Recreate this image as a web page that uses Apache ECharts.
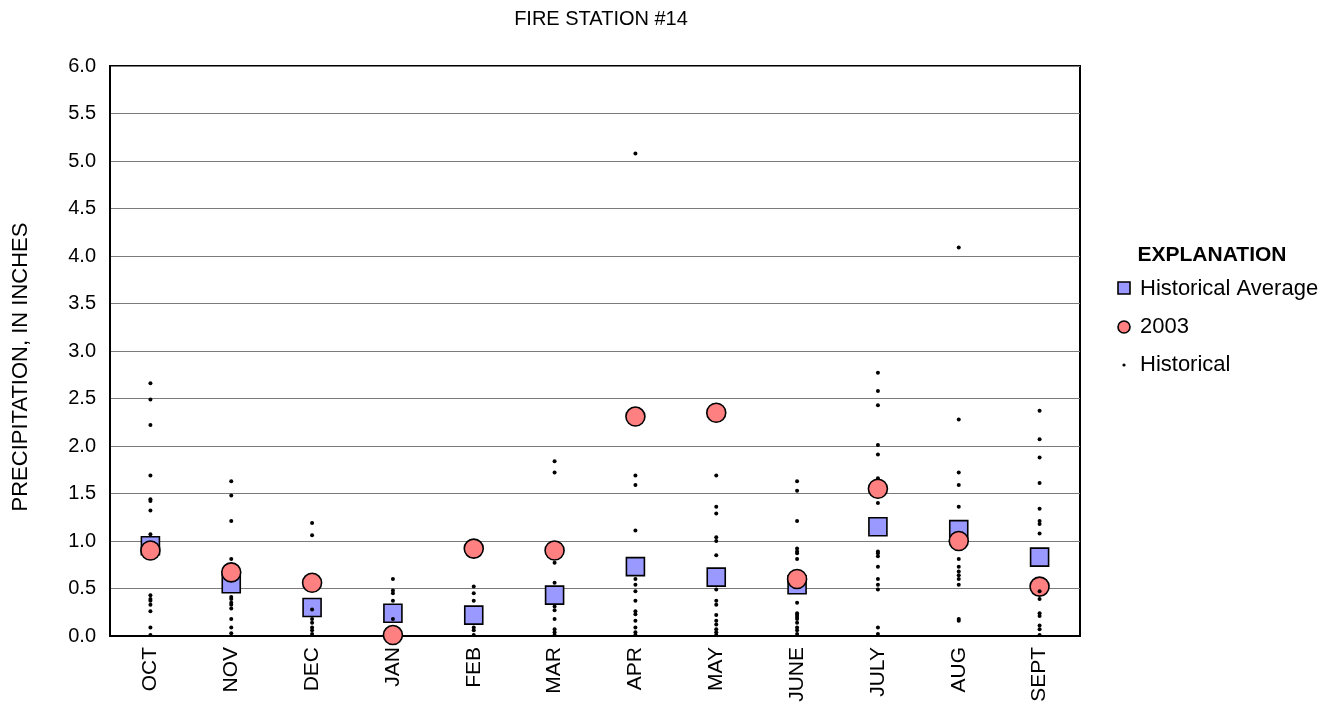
<!DOCTYPE html>
<html>
<head>
<meta charset="utf-8">
<script src="https://cdn.jsdelivr.net/npm/echarts@6/dist/echarts.min.js"></script>
<style>
  html, body { margin: 0; padding: 0; background: #fff; }
  #chart { width: 1335px; height: 702px; }
</style>
</head>
<body>
<div id="chart"></div>
<script>
// Water-year months
const months = ['OCT', 'NOV', 'DEC', 'JAN', 'FEB', 'MAR', 'APR', 'MAY', 'JUNE', 'JULY', 'AUG', 'SEPT'];

// Long-term monthly mean precipitation, inches
const historicalAverage = [0.95, 0.55, 0.30, 0.24, 0.22, 0.43, 0.73, 0.62, 0.54, 1.15, 1.12, 0.83];

// Monthly precipitation for 2003, inches
const year2003 = [0.90, 0.67, 0.56, 0.01, 0.92, 0.90, 2.31, 2.35, 0.60, 1.55, 1.00, 0.52];

// Individual historical monthly totals, inches
const historicalOct  = [2.66, 2.49, 2.22, 1.69, 1.44, 1.42, 1.32, 1.07, 0.43, 0.39, 0.37, 0.33, 0.26, 0.09, 0.01];
const historicalNov  = [1.63, 1.48, 1.21, 0.81, 0.41, 0.39, 0.35, 0.33, 0.29, 0.18, 0.09, 0.03];
const historicalDec  = [1.19, 1.06, 0.28, 0.18, 0.14, 0.09, 0.06, 0.02];
const historicalJan  = [0.60, 0.48, 0.45, 0.37, 0.18];
const historicalFeb  = [0.52, 0.45, 0.37, 0.09, 0.06, 0.01];
const historicalMar  = [1.84, 1.72, 0.77, 0.56, 0.31, 0.27, 0.18, 0.07, 0.04, 0.01];
const historicalApr  = [5.08, 1.69, 1.59, 1.11, 0.60, 0.54, 0.47, 0.37, 0.26, 0.23, 0.16, 0.09, 0.04, 0.01];
const historicalMay  = [1.69, 1.36, 1.29, 1.04, 1.00, 0.85, 0.49, 0.37, 0.33, 0.22, 0.16, 0.12, 0.07, 0.04, 0.01];
const historicalJune = [1.63, 1.53, 1.21, 0.92, 0.89, 0.87, 0.81, 0.35, 0.24, 0.22, 0.20, 0.18, 0.14, 0.09, 0.06, 0.02];
const historicalJuly = [2.77, 2.58, 2.43, 2.01, 1.91, 1.66, 1.40, 0.89, 0.87, 0.84, 0.73, 0.60, 0.54, 0.49, 0.09, 0.02];
const historicalAug  = [4.09, 2.28, 1.72, 1.59, 1.36, 0.81, 0.73, 0.68, 0.64, 0.60, 0.54, 0.18, 0.16];
const historicalSept = [2.37, 2.07, 1.88, 1.61, 1.34, 1.21, 1.18, 1.08, 0.47, 0.39, 0.24, 0.21, 0.11, 0.07, 0.01];

// Y-axis tick labels
const yTicks = ['0.0', '0.5', '1.0', '1.5', '2.0', '2.5', '3.0', '3.5', '4.0', '4.5', '5.0', '5.5', '6.0'];

const historicalByMonth = [historicalOct, historicalNov, historicalDec, historicalJan, historicalFeb,
  historicalMar, historicalApr, historicalMay, historicalJune, historicalJuly, historicalAug, historicalSept];

const historicalPoints = [];
historicalByMonth.forEach((vals, i) => vals.forEach(v => historicalPoints.push([months[i], v])));

const FONT = '"Liberation Sans", Arial, sans-serif';

const chart = echarts.init(document.getElementById('chart'), null, { renderer: 'canvas' });

chart.setOption({
  backgroundColor: '#ffffff',
  animation: false,
  grid: {
    left: 110, right: 255, top: 66, bottom: 66,
    outerBoundsMode: 'none',
    containLabel: false,
    show: true, borderColor: '#000', borderWidth: 2, backgroundColor: 'transparent'
  },
  xAxis: {
    type: 'category',
    data: months,
    boundaryGap: true,
    axisLine: { lineStyle: { color: '#000', width: 2 } },
    axisTick: { show: false },
    axisLabel: { rotate: 90, margin: 11, color: '#000', fontSize: 21, fontFamily: FONT }
  },
  yAxis: {
    type: 'value',
    min: 0, max: 6, interval: 0.5,
    axisLine: { show: true, lineStyle: { color: '#000', width: 2 } },
    axisTick: { show: false },
    splitLine: { lineStyle: { color: '#7a7a7a', width: 1 } },
    axisLabel: {
      margin: 14, color: '#000', fontSize: 20, fontFamily: FONT,
      formatter: v => yTicks[Math.round(v * 2)]
    }
  },
  series: [
    {
      name: 'Historical Average',
      type: 'scatter',
      data: months.map((m, i) => [m, historicalAverage[i]]),
      symbol: 'rect',
      symbolSize: 18,
      z: 2,
      itemStyle: { color: '#9999ff', borderColor: '#000', borderWidth: 1.6, opacity: 1 }
    },
    {
      name: '2003',
      type: 'scatter',
      data: months.map((m, i) => [m, year2003[i]]),
      symbol: 'circle',
      symbolSize: 19,
      z: 3,
      itemStyle: { color: '#ff8080', borderColor: '#000', borderWidth: 1.6, opacity: 1 }
    },
    {
      name: 'Historical',
      type: 'scatter',
      data: historicalPoints,
      symbol: 'circle',
      symbolSize: 4,
      z: 4,
      itemStyle: { color: '#000', opacity: 1 }
    }
  ],
  graphic: [
    {
      type: 'text', x: 601, y: 19,
      style: { text: 'FIRE STATION #14', font: '20px ' + FONT, fill: '#000',
        textAlign: 'center', textVerticalAlign: 'middle' }
    },
    {
      type: 'text', x: 21, y: 367, rotation: Math.PI / 2,
      style: { text: 'PRECIPITATION, IN INCHES', font: '22px ' + FONT, fill: '#000',
        textAlign: 'center', textVerticalAlign: 'middle' }
    },
    // Explanation box
    {
      type: 'text', x: 1212, y: 255,
      style: { text: 'EXPLANATION', font: 'bold 21px ' + FONT, fill: '#000',
        textAlign: 'center', textVerticalAlign: 'middle' }
    },
    {
      type: 'rect', shape: { x: 1118, y: 282, width: 12, height: 12 },
      style: { fill: '#9999ff', stroke: '#000', lineWidth: 1.6 }
    },
    {
      type: 'text', x: 1140, y: 289,
      style: { text: 'Historical Average', font: '22px ' + FONT, fill: '#000', textVerticalAlign: 'middle' }
    },
    {
      type: 'circle', shape: { cx: 1124, cy: 327, r: 6 },
      style: { fill: '#ff8080', stroke: '#000', lineWidth: 1.6 }
    },
    {
      type: 'text', x: 1140, y: 327,
      style: { text: '2003', font: '22px ' + FONT, fill: '#000', textVerticalAlign: 'middle' }
    },
    {
      type: 'circle', shape: { cx: 1124, cy: 365, r: 1.6 },
      style: { fill: '#000' }
    },
    {
      type: 'text', x: 1140, y: 365,
      style: { text: 'Historical', font: '22px ' + FONT, fill: '#000', textVerticalAlign: 'middle' }
    }
  ]
});
</script>
</body>
</html>
